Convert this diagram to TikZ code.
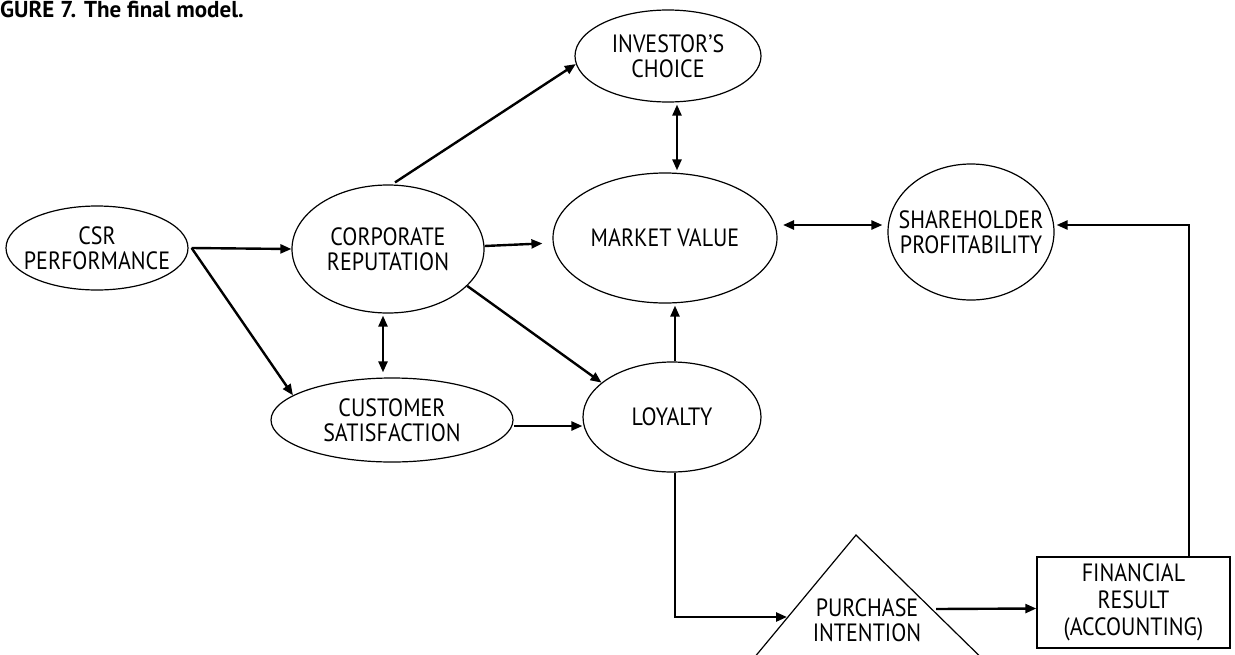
\documentclass[tikz,border=0pt]{standalone}
\usepackage{fontspec}
\setmainfont{PT Sans}[FakeStretch=0.88]
\newfontfamily\titlefont{PT Sans}
\usetikzlibrary{shapes.geometric,arrows.meta,calc}
\tikzset{
  ell/.style={draw, ellipse, line width=1.2pt, inner xsep=-40pt, inner ysep=-15pt, align=center, font=\fontsize{25}{25}\selectfont},
  conn/.style={line width=2.4pt, -{Triangle[length=11pt,width=9pt]}},
  dconn/.style={line width=2.4pt, {Triangle[length=11pt,width=9pt]}-{Triangle[length=11pt,width=9pt]}},
  boxnode/.style={draw, rectangle, line width=1.4pt, inner sep=0pt, align=center, font=\fontsize{25}{27}\selectfont},
  txt/.style={inner sep=0pt, align=center, font=\fontsize{25}{25}\selectfont}
}
\begin{document}
\begin{tikzpicture}[x=1pt,y=-1pt]
\useasboundingbox (0,0) rectangle (1235,654);
\clip (0,0) rectangle (1235,654);
% title
\node[anchor=base west, inner sep=0pt, font=\titlefont\bfseries\fontsize{23}{23}\selectfont] (title) at (0,17) {GURE 7. The final model.};
% nodes
\node[ell, minimum width=182pt, minimum height=84pt] (csr) at (97,248) {CSR\\PERFORMANCE};
\node[ell, minimum width=192pt, minimum height=128pt] (corp) at (388,249) {CORPORATE\\REPUTATION};
\node[ell, minimum width=224pt, minimum height=130pt] (mv) at (665,238) {MARKET VALUE};
\node[ell, minimum width=166pt, minimum height=136pt] (sh) at (971,232) {SHAREHOLDER\\PROFITABILITY};
\node[ell, minimum width=186pt, minimum height=92pt] (inv) at (668,56) {INVESTOR'S\\CHOICE};
\node[ell, minimum width=242pt, minimum height=84pt] (cs) at (392,420) {CUSTOMER\\SATISFACTION};
\node[ell, minimum width=178pt, minimum height=110pt] (loy) at (672,417) {LOYALTY};
\node[boxnode, minimum width=193pt, minimum height=91pt] (fin) at (1133.5,602.5) {FINANCIAL\\RESULT\\(ACCOUNTING)};
% triangle
\draw[line width=1.2pt, line join=miter] (856,535) -- (739,676) -- (1000,676) -- cycle;
\node[txt] (pi) at (867,620) {PURCHASE\\INTENTION};
\coordinate (pil) at (787,617);
\coordinate (pir) at (936,609);
\coordinate (turn1) at (675,617);
\coordinate (turn2) at (1189,225);
\coordinate (mvr) at (777,225);
\coordinate (csr2) at (513,426);
% connectors
\draw[conn] ([xshift=3pt]csr.east) -- (corp.west);
\draw[conn] ([xshift=3pt]csr.east) -- (cs.166);
\draw[dconn, shorten <=2pt, shorten >=5pt] ([xshift=-5pt]corp.south) -- ([xshift=-9pt]cs.north);
\draw[conn, shorten >=10pt] ([yshift=3pt]corp.east) -- ([yshift=-5pt]mv.west);
\draw[conn] (corp.-25) -- (loy.154);
\draw[conn] ([xshift=7pt,yshift=2pt]corp.north) -- (inv.185);
\draw[dconn, shorten <=2pt, shorten >=2pt] ([xshift=9pt]inv.south) -- ([xshift=12pt]mv.north);
\draw[conn, shorten >=2pt] ([xshift=3pt]loy.north) -- ([xshift=10pt]mv.south);
\draw[dconn, shorten <=6pt, shorten >=5pt] (mvr) -- (sh.west |- mvr);
\draw[conn, shorten <=1pt] (csr2) -- (loy.west |- csr2);
\draw[conn] ([xshift=3pt]loy.south) -- (turn1) -- (pil);
\draw[conn] (pir) -- ([yshift=-6pt]fin.west);
\draw[conn] (fin.north -| turn2) -- (turn2) -- ([xshift=2pt]sh.east |- turn2);
\end{tikzpicture}
\end{document}
